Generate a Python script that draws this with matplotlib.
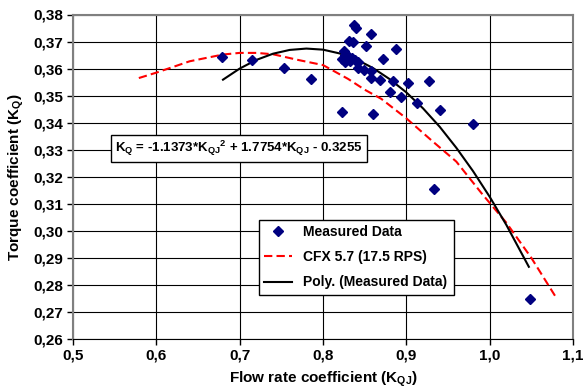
import numpy as np
import matplotlib
matplotlib.use("Agg")
import matplotlib.pyplot as plt

# measured points
meas_x = [0.679, 0.715, 0.753, 0.785,
          0.837, 0.839, 0.857, 0.831, 0.836, 0.851, 0.888, 0.825, 0.827,
          0.823, 0.828, 0.832, 0.835, 0.826, 0.830, 0.838,
          0.872, 0.842, 0.842, 0.849, 0.858, 0.858, 0.868, 0.884, 0.902,
          0.927, 0.880, 0.894, 0.913, 0.941, 0.823, 0.860, 0.980, 0.933, 1.048]
meas_y = [0.3644, 0.3631, 0.3603, 0.3560,
          0.3763, 0.3750, 0.3729, 0.3703, 0.3699, 0.3684, 0.3671, 0.3666, 0.3650,
          0.3635, 0.3640, 0.3628, 0.3638, 0.3625, 0.3645, 0.3630,
          0.3634, 0.3625, 0.3603, 0.3596, 0.3590, 0.3565, 0.3556, 0.3553, 0.3546,
          0.3554, 0.3513, 0.3496, 0.3471, 0.3448, 0.3440, 0.3431, 0.3394, 0.3154, 0.2749]

# CFX 5.7 curve
cfx_x = [0.579, 0.60, 0.64, 0.68, 0.70, 0.72, 0.74, 0.77, 0.80, 0.83, 0.85,
         0.87, 0.90, 0.93, 0.96, 0.99, 1.02, 1.05, 1.08]
cfx_y = [0.3565, 0.3585, 0.3627, 0.3652, 0.3658, 0.3658, 0.3653, 0.3632, 0.3613,
         0.3562, 0.3522, 0.3488, 0.3416, 0.3335, 0.3256, 0.3140, 0.3030, 0.2900, 0.2752]

# polynomial trendline of the measured data
poly_x = [0.68, 0.70, 0.72, 0.74, 0.76, 0.78, 0.80, 0.82, 0.84, 0.86,
          0.88, 0.90, 0.92, 0.94, 0.96, 0.98, 1.00, 1.02, 1.047]
poly_y = [0.3559, 0.3600, 0.3632, 0.3655, 0.3669, 0.3674, 0.3670, 0.3656, 0.3634, 0.3602,
          0.3561, 0.3512, 0.3453, 0.3385, 0.3307, 0.3221, 0.3126, 0.3022, 0.2867]

x_ticks = [0.5, 0.6, 0.7, 0.8, 0.9, 1.0, 1.1]
y_ticks = [0.26, 0.27, 0.28, 0.29, 0.30, 0.31, 0.32, 0.33, 0.34, 0.35, 0.36, 0.37, 0.38]

plt.rcParams['font.family'] = ['Liberation Sans', 'DejaVu Sans']
plt.rcParams['font.weight'] = 'bold'
plt.rcParams['mathtext.fontset'] = 'custom'
plt.rcParams['mathtext.rm'] = 'Liberation Sans:bold'
plt.rcParams['mathtext.it'] = 'Liberation Sans:bold'
plt.rcParams['mathtext.bf'] = 'Liberation Sans:bold'
plt.rcParams['mathtext.default'] = 'rm'

fig = plt.figure(figsize=(5.83, 3.91), dpi=100)
ax = fig.add_axes([73 / 583, 1 - 339 / 391, 500 / 583, 324.5 / 391])

ax.plot(meas_x, meas_y, 'D', color='#000080', markersize=5, linestyle='none',
        label='Measured Data', zorder=4)
ax.plot(cfx_x, cfx_y, color='red', lw=1.5, dashes=(4, 2), label='CFX 5.7 (17.5 RPS)', zorder=3)
ax.plot(poly_x, poly_y, color='black', lw=1.5, label='Poly. (Measured Data)', zorder=3)

ax.set_xlim(0.5, 1.1)
ax.set_ylim(0.26, 0.38)
ax.set_xticks(x_ticks)
ax.set_yticks(y_ticks)
ax.set_xticklabels([f"{v:.1f}".replace('.', ',') for v in x_ticks])
ax.set_yticklabels([f"{v:.2f}".replace('.', ',') for v in y_ticks])
ax.tick_params(labelsize=11, length=4, width=1, color='black', pad=3)
ax.grid(True, color='black', lw=0.8)
ax.set_axisbelow(True)

for s in ['left', 'right', 'top']:
    ax.spines[s].set_color('#808080')
    ax.spines[s].set_linewidth(1.5)
ax.spines['bottom'].set_color('black')

ax.set_xlabel(r"Flow rate coefficient (K$_{QJ}$)", fontsize=11, fontweight='bold', labelpad=5)
ax.set_ylabel(r"Torque coefficient (K$_{Q}$)", fontsize=11, fontweight='bold', labelpad=5)

ax.text(0.6995, 0.3305,
        r"K$_{Q}$ = -1.1373*K$_{QJ}$$^{2}$ + 1.7754*K$_{QJ}$ - 0.3255",
        fontsize=9.5, fontweight='bold', ha='center', va='center', zorder=5,
        bbox=dict(boxstyle='square,pad=0.32', fc='white', ec='black', lw=1))

leg = ax.legend(loc='lower left', bbox_to_anchor=(0.371, 0.1356, 0.391, 0.2314),
                mode='expand', numpoints=1, fontsize=10, fancybox=False,
                framealpha=1, edgecolor='black', handlelength=2.0,
                borderaxespad=0, labelspacing=0.8)
leg.get_frame().set_linewidth(1)

fig.savefig('out.png', dpi=100)
